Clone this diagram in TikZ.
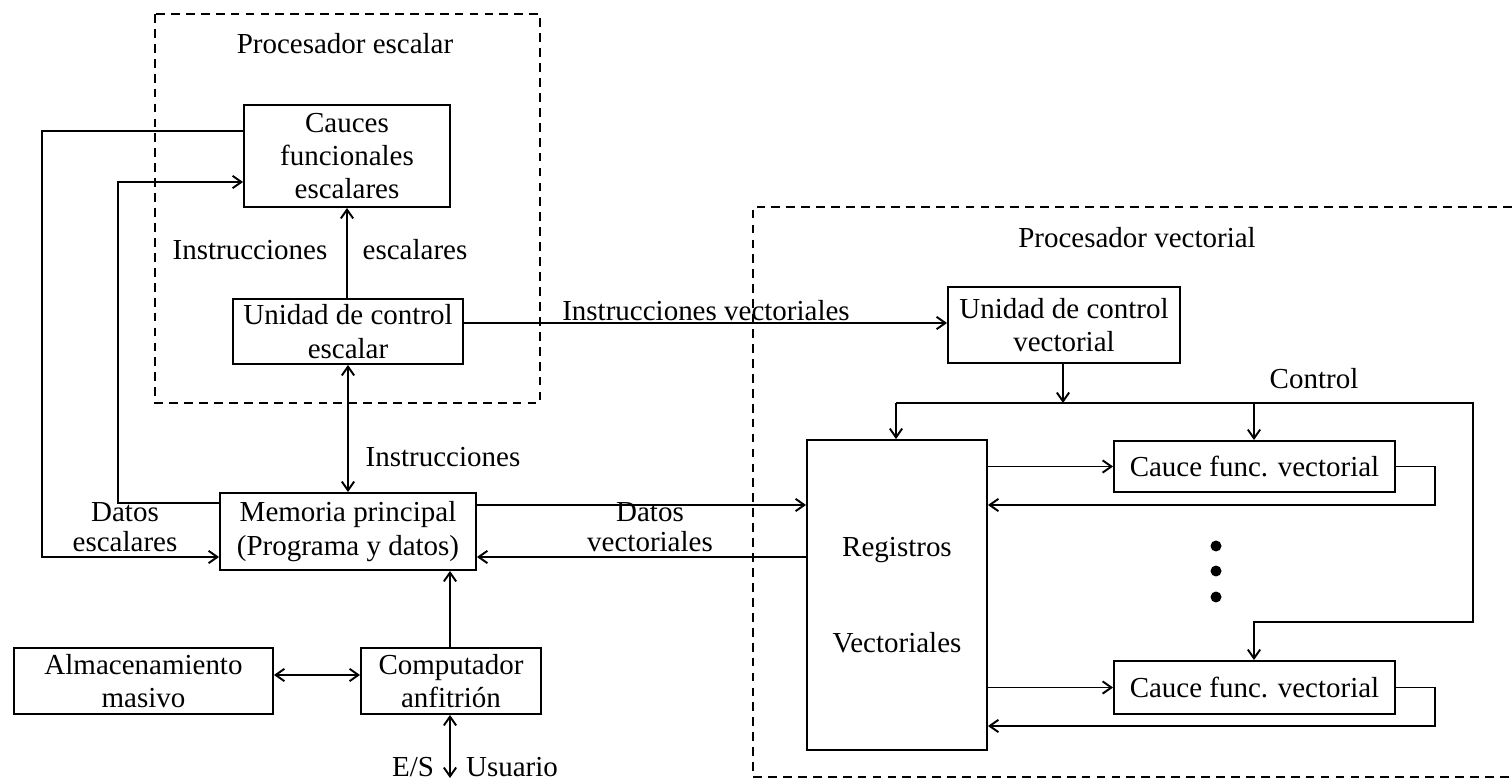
\documentclass[tikz,border=0pt]{standalone}
\usepackage{fontspec}
\setmainfont{Liberation Serif}
\usetikzlibrary{arrows.meta,calc}
\begin{document}
\begin{tikzpicture}[x=0.02cm,y=-0.02cm,
  every node/.style={font=\fontsize{16.5}{19}\selectfont, inner sep=0pt},
  box/.style={draw, line width=1.1pt, align=center},
  lbl/.style={align=center},
  link/.style={line width=1.1pt},
  tip/.tip={Straight Barb[length=5pt,width=7pt]},
  arr/.style={link, -tip},
  darr/.style={link, tip-tip},
  frame/.style={line width=1.1pt, dash pattern=on 5pt off 3.5pt}]
\useasboundingbox (0,0) rectangle (1512,780);

% processor frames
\draw[frame] (155,14) rectangle (540,403);
\draw[frame] (1512,207) -- (753,207) -- (753,777) -- (1512,777);
\node[lbl] (tesc) at (345,44) {Procesador escalar};
\node[lbl] (tvec) at (1137,238) {Procesador vectorial};

% scalar side
\node[box, minimum width=4.12cm, minimum height=2.04cm] (cauces) at (347,156) {Cauces\\funcionales\\escalares};
\node[box, minimum width=4.6cm, minimum height=1.3cm] (ucesc) at (348,331.5) {Unidad de control\\escalar};
\node[box, minimum width=5.12cm, minimum height=1.54cm] (mem) at (348,531.5) {Memoria principal\\(Programa y datos)};
\node[box, minimum width=5.18cm, minimum height=1.32cm] (alm) at (143.5,681) {Almacenamiento\\masivo};
\node[box, minimum width=3.6cm, minimum height=1.32cm] (comp) at (451,681) {Computador\\anfitrión};

% vector side
\node[box, minimum width=4.64cm, minimum height=1.52cm] (ucvec) at (1064,325) {Unidad de control\\vectorial};
\node[box, minimum width=3.6cm, minimum height=6.2cm] (reg) at (897,595) {Registros\\[36pt]Vectoriales};
\node[box, minimum width=5.62cm, minimum height=1.02cm] (cf1) at (1254.5,466.5) {Cauce func. vectorial};
\node[box, minimum width=5.62cm, minimum height=1.06cm] (cf2) at (1254.5,687.5) {Cauce func. vectorial};
\foreach \yy/\nm in {546/d1,571/d2,597/d3}
  \node[circle, fill, minimum size=0.22cm] (\nm) at (1216,\yy) {};

% labels
\node[lbl] (li1) at (250,250) {Instrucciones};
\node[lbl] (le1) at (415,250) {escalares};
\node[lbl] (li2) at (443,457) {Instrucciones};
\node[lbl] (lde) at (125,527) {Datos\\[-2pt]escalares};
\node[lbl] (ldv) at (650,527) {Datos\\[-2pt]vectoriales};
\node[lbl] (liv) at (706,311) {Instrucciones vectoriales};
\node[lbl] (lctl) at (1314,379) {Control};
\node[lbl] (les) at (413,767) {E/S};
\node[lbl] (lus) at (512,767) {Usuario};

% scalar connections
\draw[arr] (ucesc.north -| cauces.south) -- (cauces.south);
\draw[darr] (ucesc.south) -- (mem.north);
\draw[arr] (cauces.west |- 0,131) -- (42,131) -- (42,557) -- (mem.west |- 0,557);
\draw[arr] (mem.west |- 0,503) -- (118,503) -- (118,182) -- (cauces.west |- 0,182);
\draw[arr] (comp.north -| 450,0) -- (mem.south -| 450,0);
\draw[darr] (alm.east |- 0,675) -- (comp.west |- 0,675);
\coordinate (user) at (450,778);
\draw[darr] (comp.south -| user) -- (user);

% scalar to vector
\draw[arr] (ucesc.east |- 0,323) -- (ucvec.west |- 0,323);
\draw[arr] (mem.east |- 0,505) -- (reg.west |- 0,505);
\draw[arr] (reg.west |- 0,557) -- (mem.east |- 0,557);

% vector pipelines
\draw[arr] (reg.east |- cf1.west) -- (cf1.west);
\draw[arr] (cf1.east) -- (1435,466.5) -- (1435,505) -- (reg.east |- 0,505);
\draw[arr] (reg.east |- cf2.west) -- (cf2.west);
\draw[arr] (cf2.east) -- (1435,687.5) -- (1435,726) -- (reg.east |- 0,726);

% control bus
\coordinate (bus) at (1063,403);
\draw[arr] (ucvec.south -| bus) -- (bus);
\draw[arr] (896,403) -- (1473,403) -- (1473,622) -- (1254,622) -- (cf2.north -| 1254,0);
\draw[arr] (896,403) -- (reg.north -| 896,0);
\draw[arr] (1254,403) -- (cf1.north -| 1254,0);
\end{tikzpicture}
\end{document}
